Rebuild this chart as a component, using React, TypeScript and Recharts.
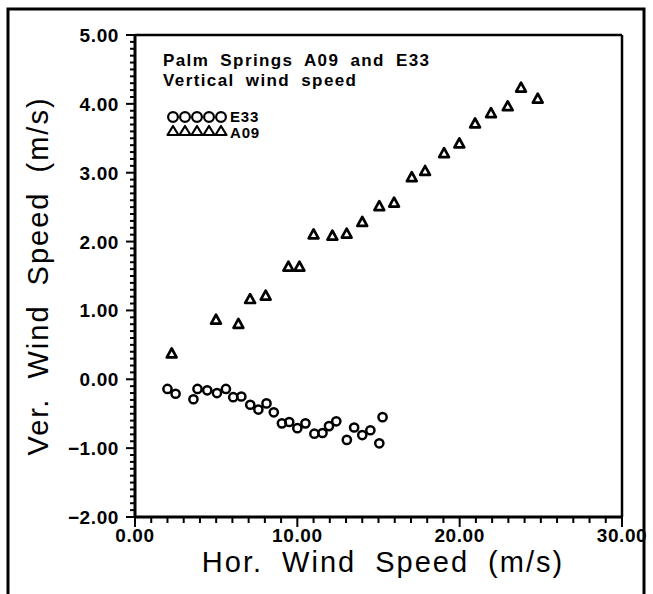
import React from 'react';
import { ScatterChart, Scatter, XAxis, YAxis, ReferenceLine } from 'recharts';

const e33X = [2.0, 2.5, 3.6, 3.85, 4.45, 5.05, 5.6, 6.05, 6.55, 7.1, 7.6, 8.1, 8.55, 9.05, 9.5, 10.0, 10.5, 11.05, 11.55, 11.95, 12.4, 13.05, 13.5, 14.0, 14.5, 15.05, 15.25];
const e33Y = [-0.14, -0.21, -0.29, -0.14, -0.16, -0.2, -0.14, -0.26, -0.25, -0.37, -0.44, -0.35, -0.48, -0.64, -0.62, -0.71, -0.64, -0.79, -0.78, -0.68, -0.61, -0.88, -0.7, -0.81, -0.74, -0.93, -0.55];

const a09X = [2.26, 4.99, 6.37, 7.09, 8.05, 9.45, 10.13, 11.0, 12.16, 13.04, 14.0, 15.05, 15.96, 17.05, 17.87, 19.04, 19.98, 20.95, 21.93, 22.96, 23.78, 24.81];
const a09Y = [0.37, 0.86, 0.8, 1.16, 1.21, 1.63, 1.63, 2.1, 2.08, 2.11, 2.28, 2.51, 2.56, 2.93, 3.02, 3.28, 3.42, 3.71, 3.86, 3.96, 4.23, 4.07];

const xMajorTicks = [0, 10, 20, 30];
const yMajorTicks = [-2, -1, 0, 1, 2, 3, 4, 5];
const xMinorStep = 1;
const yMinorStep = 0.1;

const xTicks: number[] = [];
for (let i = 0; i <= 30 / xMinorStep; i++) xTicks.push(Math.round(i * xMinorStep * 10) / 10);
const yTicks: number[] = [];
for (let i = 0; i <= 7 / yMinorStep; i++) yTicks.push(Math.round((-2 + i * yMinorStep) * 10) / 10);

const e33Data = e33X.map((x, i) => ({ x, y: e33Y[i] }));
const a09Data = a09X.map((x, i) => ({ x, y: a09Y[i] }));

const FONT = '"Liberation Sans", Arial, sans-serif';

const fmt = (v: number) => (v < 0 ? '\u2212' + Math.abs(v).toFixed(2) : v.toFixed(2));

const XTick = (props: any) => {
  const { x, y, payload } = props;
  const v = payload.value;
  const major = xMajorTicks.some((m) => Math.abs(m - v) < 1e-6);
  return (
    <g>
      <line x1={x} x2={x} y1={y} y2={y + (major ? 10 : 6)} stroke="#000" strokeWidth={2} />
      {major && (
        <text x={x} y={y + 25} textAnchor="middle" fontFamily={FONT} fontWeight="bold" fontSize={19} letterSpacing={0.6} fill="#000">
          {fmt(v)}
        </text>
      )}
    </g>
  );
};

const YTick = (props: any) => {
  const { x, y, payload } = props;
  const v = payload.value;
  const major = yMajorTicks.some((m) => Math.abs(m - v) < 1e-6);
  return (
    <g>
      <line x1={x} x2={x - (major ? 9 : 5)} y1={y} y2={y} stroke="#000" strokeWidth={2} />
      {major && (
        <text x={x - 16} y={y + 7} textAnchor="end" fontFamily={FONT} fontWeight="bold" fontSize={19} letterSpacing={0.6} fill="#000">
          {fmt(v)}
        </text>
      )}
    </g>
  );
};

const CircleShape = (props: any) => {
  const { cx, cy } = props;
  return <circle cx={cx} cy={cy} r={4.1} fill="none" stroke="#000" strokeWidth={2.5} />;
};

const TriangleShape = (props: any) => {
  const { cx, cy } = props;
  const d = `M${cx},${cy - 5.3} L${cx + 4.9},${cy + 3.6} L${cx - 4.9},${cy + 3.6} Z`;
  return <path d={d} fill="none" stroke="#000" strokeWidth={2.7} strokeLinejoin="round" />;
};

const legendMarkXs = [173, 185, 197, 209, 221];

export default function App() {
  return (
    <div style={{ position: 'absolute', left: 0, top: 0, width: 653, height: 594, background: '#fff', overflow: 'hidden' }}>
      <ScatterChart width={653} height={594} margin={{ top: 35, right: 31, bottom: 47, left: 75 }}>
        <XAxis
          type="number"
          dataKey="x"
          domain={[0, 30]}
          ticks={xTicks}
          interval={0}
          tickSize={0}
          tickMargin={0}
          tickLine={false}
          tick={<XTick />}
          height={30}
          axisLine={{ stroke: '#000', strokeWidth: 3 }}
          allowDataOverflow
        />
        <YAxis
          type="number"
          dataKey="y"
          domain={[-2, 5]}
          ticks={yTicks}
          interval={0}
          tickSize={0}
          tickMargin={0}
          tickLine={false}
          tick={<YTick />}
          width={60}
          axisLine={{ stroke: '#000', strokeWidth: 3 }}
          allowDataOverflow
        />
        <ReferenceLine y={5} stroke="#000" strokeWidth={2.5} />
        <ReferenceLine x={30} stroke="#000" strokeWidth={2.5} />
        <Scatter name="E33" data={e33Data} shape={<CircleShape />} isAnimationActive={false} />
        <Scatter name="A09" data={a09Data} shape={<TriangleShape />} isAnimationActive={false} />
      </ScatterChart>
      <svg width={653} height={594} style={{ position: 'absolute', left: 0, top: 0, pointerEvents: 'none' }}>
        <rect x={8} y={9} width={636} height={620} fill="none" stroke="#000" strokeWidth={3} />
        <text x={163} y={66} fontFamily={FONT} fontWeight="bold" fontSize={17} letterSpacing={1.4} style={{ wordSpacing: 5 }} fill="#000">
          Palm Springs A09 and E33
        </text>
        <text x={163} y={86} fontFamily={FONT} fontWeight="bold" fontSize={17} letterSpacing={1.4} style={{ wordSpacing: 5 }} fill="#000">
          Vertical wind speed
        </text>
        {legendMarkXs.map((cx) => (
          <circle key={'lc' + cx} cx={cx} cy={117} r={4.9} fill="none" stroke="#000" strokeWidth={2.2} />
        ))}
        <text x={230} y={122} fontFamily={FONT} fontWeight="bold" fontSize={15} letterSpacing={0.8} fill="#000">E33</text>
        {legendMarkXs.map((cx) => (
          <path
            key={'lt' + cx}
            d={`M${cx},${126} L${cx + 5.5},${135} L${cx - 5.5},${135} Z`}
            fill="none"
            stroke="#000"
            strokeWidth={2.2}
            strokeLinejoin="round"
          />
        ))}
        <text x={230} y={138} fontFamily={FONT} fontWeight="bold" fontSize={15} letterSpacing={0.8} fill="#000">A09</text>
        <text x={383} y={572} textAnchor="middle" fontFamily={FONT} fontSize={29} letterSpacing={2} style={{ wordSpacing: 9 }} fill="#000">
          Hor. Wind Speed (m/s)
        </text>
        <text
          x={0}
          y={0}
          transform="translate(48,276) rotate(-90)"
          textAnchor="middle"
          fontFamily={FONT}
          fontSize={29}
          letterSpacing={2}
          style={{ wordSpacing: 9 }}
          fill="#000"
        >
          Ver. Wind Speed (m/s)
        </text>
      </svg>
    </div>
  );
}
